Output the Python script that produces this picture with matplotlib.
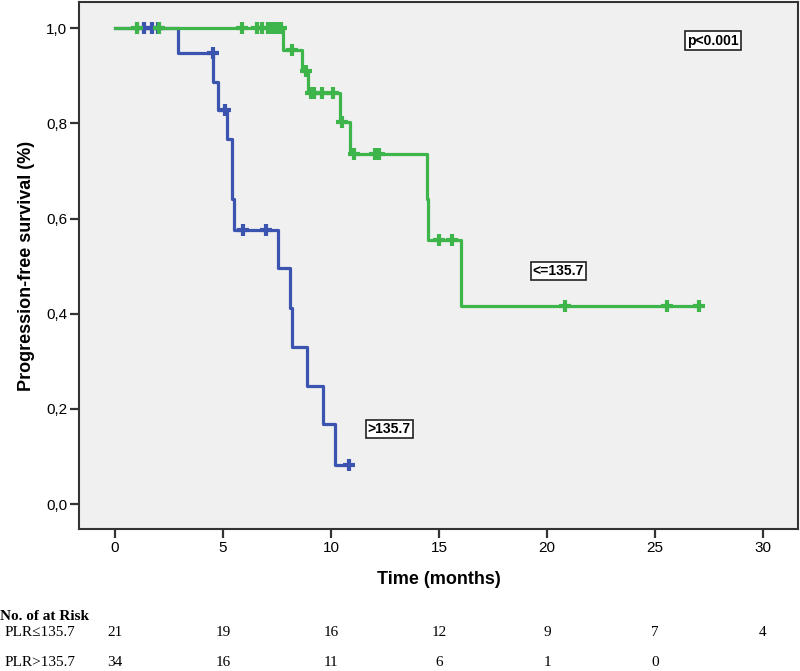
import numpy as np
import matplotlib
matplotlib.use('Agg')
import matplotlib.pyplot as plt
import matplotlib.transforms as mtransforms

# Kaplan-Meier steps
low_times = [0, 7.79, 8.64, 8.92, 10.42, 10.88, 14.43, 14.48, 16.02]
low_surv = [1.0, 0.955, 0.910, 0.864, 0.803, 0.735, 0.642, 0.555, 0.416]
low_end = 27.04
low_cens = [1.0, 2.05, 5.87, 6.56, 6.79, 7.1, 7.25, 7.4, 7.55, 7.7, 8.21, 8.85,
            9.05, 9.2, 9.57, 10.1, 10.5, 11.06, 12.04, 12.22, 15.01, 15.59,
            20.83, 25.54, 27.04]

high_times = [0, 2.92, 4.55, 4.78, 5.17, 5.40, 5.51, 7.56, 8.10, 8.21, 8.88, 9.64, 10.19]
high_surv = [1.0, 0.947, 0.887, 0.828, 0.768, 0.641, 0.576, 0.495, 0.411, 0.330,
             0.249, 0.168, 0.083]
high_end = 10.83
high_cens = [1.35, 1.71, 1.99, 4.54, 5.1, 5.94, 6.98, 10.83]

risk_times = [0, 5, 10, 15, 20, 25, 30]
risk_low = [21, 19, 16, 12, 9, 7, 4]
risk_high = [34, 16, 11, 6, 1, 0]

green = '#3db54a'
blue = '#3a54b0'
narrow = ['Liberation Sans Narrow', 'Liberation Sans', 'DejaVu Sans']


def km(ax, times, surv, end, cens, color):
    t = list(times) + [end]
    s = list(surv) + [surv[-1]]
    ax.step(t, s, where='post', color=color, lw=2.3, zorder=3)
    idx = np.searchsorted(times, cens, side='right') - 1
    cy = np.array(surv)[idx]
    ax.plot(cens, cy, ls='none', marker='+', ms=9, mew=3, color=color, zorder=4)


fig = plt.figure(figsize=(8, 6.71), dpi=100)
ax = fig.add_axes([79 / 800, 1 - 529 / 671, (798 - 79) / 800, (529 - 2) / 671])
ax.set_facecolor('#f0f0f0')

km(ax, high_times, high_surv, high_end, high_cens, blue)
km(ax, low_times, low_surv, low_end, low_cens, green)

ax.set_xlim(-1.67, 31.62)
ax.set_ylim(-0.0525, 1.055)
ax.set_xticks([0, 5, 10, 15, 20, 25, 30])
ax.set_yticks([0, 0.2, 0.4, 0.6, 0.8, 1.0])
ax.set_yticklabels(['0,0', '0,2', '0,4', '0,6', '0,8', '1,0'])
ax.tick_params(length=6.5, width=1.6, color='#333333', labelsize=11, pad=2)
for lab in ax.get_xticklabels() + ax.get_yticklabels():
    lab.set_family(narrow)
for sp in ax.spines.values():
    sp.set_color('#333333')
    sp.set_linewidth(1.5)

ax.set_xlabel('Time (months)', fontsize=13, fontweight='bold', family=narrow, labelpad=12)
ax.set_ylabel('Progression-free survival (%)', fontsize=13, fontweight='bold',
              family=narrow, labelpad=8)

box = dict(boxstyle='square,pad=0.15', facecolor='white', edgecolor='#222222', lw=1.2)
ax.text(27.69, 0.974, 'p<0.001', fontsize=10, fontweight='bold', family=narrow,
        ha='center', va='center', bbox=box)
ax.text(20.53, 0.4905, '<=135.7', fontsize=10, fontweight='bold', family=narrow,
        ha='center', va='center', bbox=box)
ax.text(12.69, 0.158, '>135.7', fontsize=10, fontweight='bold', family=narrow,
        ha='center', va='center', bbox=box)

# number at risk table
trans = mtransforms.blended_transform_factory(ax.transData, fig.transFigure)
serif = ['Liberation Serif', 'DejaVu Serif']
fig.text(0.0, 1 - 617 / 671, 'No. of at Risk', fontsize=11, fontweight='bold',
         family=serif, va='center')
fig.text(5 / 800, 1 - 633 / 671, 'PLR≤135.7', fontsize=11, family=serif, va='center')
fig.text(5 / 800, 1 - 663 / 671, 'PLR>135.7', fontsize=11, family=serif, va='center')
for t, n in zip(risk_times, risk_low):
    fig.text(t, 1 - 633 / 671, str(n), fontsize=11, family=serif, ha='center',
             va='center', transform=trans)
for t, n in zip(risk_times, risk_high):
    fig.text(t, 1 - 663 / 671, str(n), fontsize=11, family=serif, ha='center',
             va='center', transform=trans)

fig.savefig('out.png', dpi=100)
